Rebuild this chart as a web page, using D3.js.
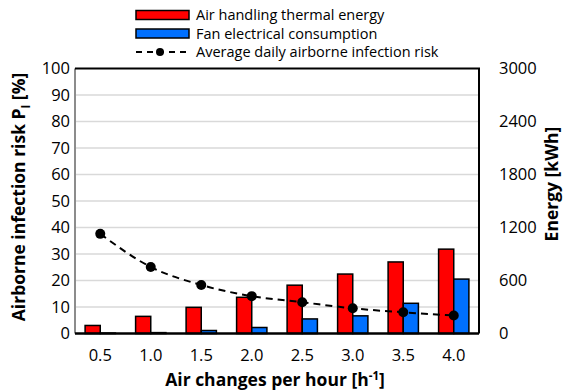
<!DOCTYPE html>
<html lang="en">
<head>
<meta charset="UTF-8">
<title>Air changes chart</title>
<script src="https://d3js.org/d3.v7.js"></script>
<style>
    body { margin: 0; background: #fff; }
    svg { display: block; font-family: "Open Sans", sans-serif; }
    .tick-label { font-size: 16.5px; fill: #000; }
    .axis-title { font-size: 17.5px; font-weight: bold; fill: #000; }
    .legend text { font-size: 14.5px; fill: #000; }
</style>
</head>
<body>
<svg width="563" height="390"></svg>
<script>
    const categories = ["0.5", "1.0", "1.5", "2.0", "2.5", "3.0", "3.5", "4.0"];
    const thermalEnergy = [91, 194, 296, 410, 547, 673, 810, 955];
    const fanEnergy = [5, 10, 34, 68, 165, 200, 342, 616];
    const infectionRisk = [37.6, 25.1, 18.3, 14.1, 11.8, 9.5, 8.0, 6.8];
    const riskTicks = [0, 10, 20, 30, 40, 50, 60, 70, 80, 90, 100];
    const energyTicks = [0, 600, 1200, 1800, 2400, 3000];

    const m = { left: 75, right: 479, top: 68.5, bottom: 333.5 };
    const svg = d3.select("svg");

    const x = d3.scaleBand()
        .domain(categories)
        .range([m.left, m.right])
        .paddingInner(0.4)
        .paddingOuter(0.2);

    const series = ["thermal", "fan"];
    const xSub = d3.scaleBand().domain(series).range([0, x.bandwidth()]);

    const yRisk = d3.scaleLinear().domain([0, 100]).range([m.bottom, m.top]);
    const yEnergy = d3.scaleLinear().domain([0, 3000]).range([m.bottom, m.top]);

    // gridlines
    svg.append("g")
        .selectAll("line")
        .data(riskTicks.slice(1, -1))
        .join("line")
        .attr("x1", m.left).attr("x2", m.right)
        .attr("y1", d => yRisk(d)).attr("y2", d => yRisk(d))
        .attr("stroke", "#d9d9d9")
        .attr("stroke-width", 1.5);

    // bars
    const colors = { thermal: "#ff0000", fan: "#0070ff" };
    const values = { thermal: thermalEnergy, fan: fanEnergy };
    series.forEach(s => {
        svg.append("g")
            .selectAll("rect")
            .data(categories)
            .join("rect")
            .attr("x", d => x(d) + xSub(s))
            .attr("width", xSub.bandwidth())
            .attr("y", (d, i) => yEnergy(values[s][i]))
            .attr("height", (d, i) => m.bottom - yEnergy(values[s][i]))
            .attr("fill", colors[s])
            .attr("stroke", "#000")
            .attr("stroke-width", 1.5);
    });

    // frame
    svg.append("line")
        .attr("x1", m.left).attr("x2", m.left)
        .attr("y1", m.top).attr("y2", m.bottom)
        .attr("stroke", "#8c8c8c").attr("stroke-width", 2);
    svg.append("path")
        .attr("d", `M${m.left},${m.top}H${m.right}V${m.bottom}`)
        .attr("fill", "none").attr("stroke", "#000").attr("stroke-width", 2);
    svg.append("line")
        .attr("x1", m.left).attr("x2", m.right)
        .attr("y1", m.bottom).attr("y2", m.bottom)
        .attr("stroke", "#000").attr("stroke-width", 2.5);

    // infection risk line
    const cx = d => x(d) + x.bandwidth() / 2;
    const line = d3.line()
        .x((d, i) => cx(categories[i]))
        .y(d => yRisk(d))
        .curve(d3.curveMonotoneX);
    svg.append("path")
        .attr("d", line(infectionRisk))
        .attr("fill", "none")
        .attr("stroke", "#000")
        .attr("stroke-width", 2)
        .attr("stroke-dasharray", "7,5");
    svg.append("g")
        .selectAll("circle")
        .data(infectionRisk)
        .join("circle")
        .attr("cx", (d, i) => cx(categories[i]))
        .attr("cy", d => yRisk(d))
        .attr("r", 5)
        .attr("fill", "#000");

    // axes labels
    svg.append("g")
        .selectAll("text")
        .data(riskTicks)
        .join("text")
        .attr("class", "tick-label")
        .attr("x", 70)
        .attr("y", d => yRisk(d))
        .attr("dy", "0.36em")
        .attr("text-anchor", "end")
        .text(d => d);

    svg.append("g")
        .selectAll("text")
        .data(energyTicks)
        .join("text")
        .attr("class", "tick-label")
        .attr("x", 499)
        .attr("y", d => yEnergy(d))
        .attr("dy", "0.36em")
        .text(d => d);

    svg.append("g")
        .selectAll("text")
        .data(categories)
        .join("text")
        .attr("class", "tick-label")
        .attr("x", d => cx(d))
        .attr("y", 361)
        .attr("text-anchor", "middle")
        .text(d => d);

    const xTitle = svg.append("text")
        .attr("class", "axis-title")
        .attr("x", 275)
        .attr("y", 385.5)
        .attr("text-anchor", "middle");
    xTitle.append("tspan").text("Air changes per hour [h");
    xTitle.append("tspan").attr("dy", -6).attr("font-size", "11.5px").text("-1");
    xTitle.append("tspan").attr("dy", 6).text("]");

    const yTitle = svg.append("text")
        .attr("class", "axis-title")
        .attr("transform", "translate(25,197) rotate(-90)")
        .attr("text-anchor", "middle");
    yTitle.append("tspan").text("Airborne infection risk P");
    yTitle.append("tspan").attr("dy", 5).attr("font-size", "11.5px").text("I");
    yTitle.append("tspan").attr("dy", -5).text(" [%]");

    svg.append("text")
        .attr("class", "axis-title")
        .attr("transform", "translate(558,184) rotate(-90)")
        .attr("text-anchor", "middle")
        .text("Energy [kWh]");

    // legend
    const legendItems = [
        { label: "Air handling thermal energy", type: "rect", color: colors.thermal },
        { label: "Fan electrical consumption", type: "rect", color: colors.fan },
        { label: "Average daily airborne infection risk", type: "line" }
    ];
    const legend = svg.append("g").attr("class", "legend")
        .selectAll("g")
        .data(legendItems)
        .join("g")
        .attr("transform", (d, i) => `translate(0,${15 + i * 18.5})`);

    legend.filter(d => d.type === "rect")
        .append("rect")
        .attr("x", 136).attr("y", -4.5)
        .attr("width", 53).attr("height", 9)
        .attr("fill", d => d.color)
        .attr("stroke", "#000").attr("stroke-width", 1.5);

    const lineItem = legend.filter(d => d.type === "line");
    lineItem.append("line")
        .attr("x1", 136).attr("x2", 190)
        .attr("stroke", "#000").attr("stroke-width", 2)
        .attr("stroke-dasharray", "6,5");
    lineItem.append("circle")
        .attr("cx", 160).attr("r", 4).attr("fill", "#000");

    legend.append("text")
        .attr("x", 196)
        .attr("dy", "0.36em")
        .text(d => d.label);
</script>
</body>
</html>
